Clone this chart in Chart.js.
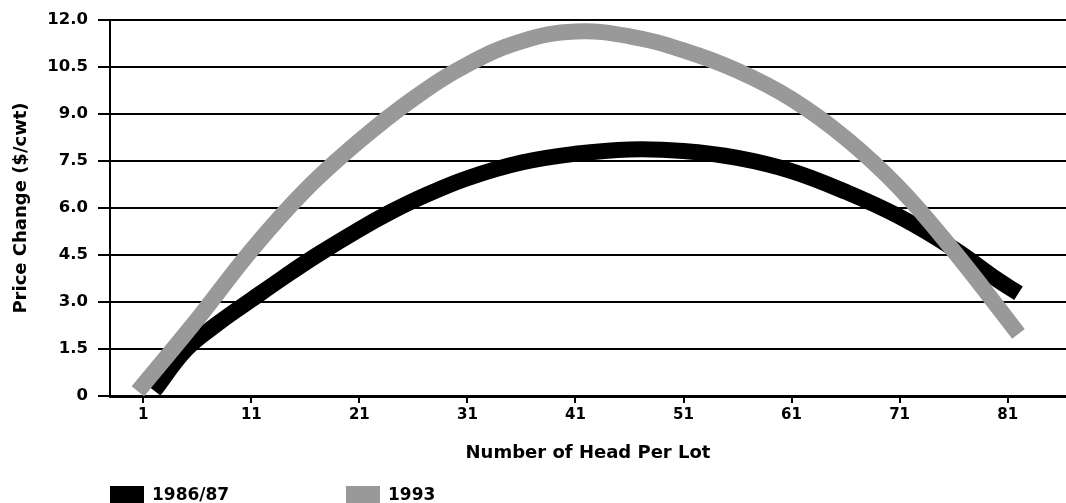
<!DOCTYPE html>
<html>
<head>
<meta charset="utf-8">
<script src="https://cdn.jsdelivr.net/npm/chart.js@4/dist/chart.umd.min.js"></script>
<style>
    html, body { margin: 0; padding: 0; background: #fff; }
    #wrap { position: relative; width: 1066px; height: 503px; overflow: hidden; }
    .legend-item {
        position: absolute;
        top: 486px;
        display: flex;
        align-items: flex-start;
        font: bold 17px "DejaVu Sans", sans-serif;
        color: #000;
        line-height: 17px;
    }
    .legend-box { width: 34px; height: 18px; margin-right: 8px; }
</style>
</head>
<body>
<div id="wrap">
    <canvas id="chart"></canvas>
    <div class="legend-item" style="left:110px"><span class="legend-box" style="background:#000"></span>1986/87</div>
    <div class="legend-item" style="left:346px"><span class="legend-box" style="background:#999"></span>1993</div>
</div>
<script>
// values (x = head per lot, y = $/cwt)
const blackX = [2, 5, 8, 11, 14, 17, 21, 24, 27, 31, 36, 41, 46, 51, 56, 61, 66, 71, 76, 80, 82];
const blackY = [0.17, 1.5, 2.34, 3.07, 3.79, 4.48, 5.32, 5.89, 6.39, 6.95, 7.45, 7.73, 7.87, 7.82, 7.6, 7.18, 6.52, 5.72, 4.7, 3.72, 3.28];

const grayX = [0.5, 6, 11, 16, 21, 26, 31, 36, 41, 46, 51, 56, 61, 66, 71, 76, 81, 82];
const grayY = [0.15, 2.45, 4.65, 6.57, 8.14, 9.49, 10.58, 11.32, 11.63, 11.48, 11.03, 10.38, 9.48, 8.23, 6.63, 4.63, 2.43, 1.98];

const xTickValues = [1, 11, 21, 31, 41, 51, 61, 71, 81];
const yTickValues = [0, 1.5, 3, 4.5, 6, 7.5, 9, 10.5, 12];

const seriesLabels = ['1986/87', '1993'];

const toPoints = (xs, ys) => xs.map((x, i) => ({ x: x, y: ys[i] }));

new Chart(document.getElementById('chart'), {
    type: 'line',
    data: {
        datasets: [{
            label: seriesLabels[0],
            data: toPoints(blackX, blackY),
            borderColor: '#000000',
            borderWidth: 16,
            pointRadius: 0,
            tension: 0.4,
            borderCapStyle: 'butt',
            order: 1
        }, {
            label: seriesLabels[1],
            data: toPoints(grayX, grayY),
            borderColor: '#999999',
            borderWidth: 16,
            pointRadius: 0,
            tension: 0.4,
            borderCapStyle: 'butt',
            order: 0
        }]
    },
    options: {
        responsive: true,
        maintainAspectRatio: false,
        animation: false,
        layout: { padding: { top: 20, right: 0, bottom: 27, left: 0 } },
        plugins: {
            legend: { display: false },
            tooltip: { enabled: false }
        },
        scales: {
            x: {
                type: 'linear',
                min: -2.08,
                max: 86.4,
                afterBuildTicks: (scale) => {
                    scale.ticks = xTickValues.map(v => ({ value: v }));
                },
                afterFit: (scale) => { scale.height = 80; },
                ticks: {
                    color: '#000',
                    font: { family: 'DejaVu Sans', size: 15, weight: 'bold' },
                    padding: 3,
                    maxRotation: 0,
                    autoSkip: false
                },
                grid: {
                    drawOnChartArea: false,
                    drawTicks: true,
                    tickLength: 7,
                    color: '#000',
                    lineWidth: 2
                },
                border: { display: true, color: '#000', width: 3 },
                title: {
                    display: true,
                    text: 'Number of Head Per Lot',
                    color: '#000',
                    font: { family: 'DejaVu Sans', size: 18, weight: 'bold' },
                    padding: { top: 0, bottom: 12 }
                }
            },
            y: {
                min: 0,
                max: 12,
                afterBuildTicks: (scale) => {
                    scale.ticks = yTickValues.map(v => ({ value: v }));
                },
                afterFit: (scale) => { scale.width = 110; },
                ticks: {
                    color: '#000',
                    font: { family: 'DejaVu Sans', size: 16.5, weight: 'bold' },
                    padding: 10,
                    callback: (v) => v === 0 ? '0' : Number(v).toFixed(1)
                },
                grid: {
                    color: '#000',
                    lineWidth: 2,
                    tickLength: 12
                },
                border: { display: true, color: '#000', width: 2 },
                title: {
                    display: true,
                    text: 'Price Change ($/cwt)',
                    color: '#000',
                    font: { family: 'DejaVu Sans', size: 18, weight: 'bold' },
                    padding: { top: 11, bottom: 0 }
                }
            }
        }
    }
});
</script>
</body>
</html>
